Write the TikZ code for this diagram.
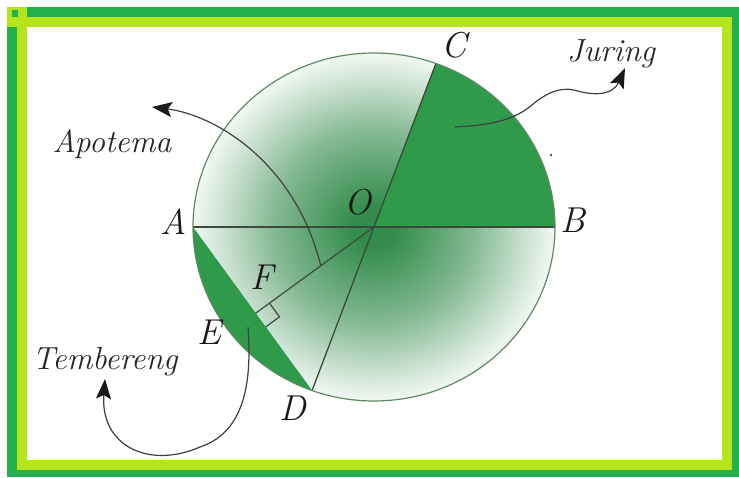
\documentclass[tikz,border=0pt]{standalone}
\usepackage{xcolor}
\usepackage{tikz}
\usetikzlibrary{arrows.meta,calc}
\definecolor{frameGreen}{HTML}{22B14C}
\definecolor{frameLime}{HTML}{B5E61D}
\definecolor{sectorGreen}{HTML}{2E9A4A}
\definecolor{shadeGreen}{HTML}{348C4C}
\definecolor{lineGray}{HTML}{3C4A3E}
\definecolor{rimGreen}{HTML}{5E8A64}
\pgfdeclareradialshading{discShade}{\pgfpoint{0bp}{0bp}}{color(0bp)=(shadeGreen); color(3bp)=(shadeGreen); color(14bp)=(shadeGreen!60); color(20bp)=(shadeGreen!30); color(25bp)=(shadeGreen!6); color(50bp)=(white)}

\begin{document}
\begin{tikzpicture}[x=1pt, y=1pt,
  lbl/.style={font=\fontsize{36}{40}\selectfont\itshape, text=black!90, inner sep=0pt},
  word/.style={font=\fontsize{32}{36}\selectfont\itshape, text=black!85, inner sep=0pt},
  pointer/.style={draw=black!75, line width=1.2pt, -{Stealth[length=20pt, width=15pt, inset=4pt, color=black!90]}}]
  \useasboundingbox (0,0) rectangle (739,477);

  % Frame
  \fill[frameGreen] (7,0) rectangle (739,470);
  \fill[frameLime] (17,7) rectangle (732,460);
  \fill[white] (27,17) rectangle (722,450);
  \fill[frameLime] (7,450) rectangle (27,470);
  \fill[frameGreen] (12,460) rectangle (18,467);

  % Points on the circle
  \coordinate (O) at (374,250);
  \path (O) ++(180:181pt and 174pt) coordinate (A);
  \path (O) ++(0:181pt and 174pt) coordinate (B);
  \path (O) ++(70:181pt and 174pt) coordinate (C);
  \path (O) ++(250:181pt and 174pt) coordinate (D);
  \coordinate (F) at ($(A)!(O)!(D)$);

  % Shaded disc
  \shade[shading=discShade] (O) ellipse [x radius=181pt, y radius=174pt];

  % Juring and tembereng
  \fill[sectorGreen] (O) -- (B) arc[start angle=0, end angle=70, x radius=181pt, y radius=174pt] -- cycle;
  \fill[sectorGreen] (A) -- (D) arc[start angle=250, end angle=180, x radius=181pt, y radius=174pt] -- cycle;

  % Diameters and apotema
  \draw[lineGray, line width=1.6pt] (A) -- (B);
  \draw[lineGray, line width=1.3pt] (C) -- (D);
  \draw[lineGray, line width=1.2pt] (O) -- (F);
  \coordinate (Fo) at ($(F)!17pt!(O)$);
  \coordinate (Fd) at ($(F)!17pt!(D)$);
  \draw[lineGray, line width=1.2pt] (Fo) -- ($(Fo)+(Fd)-(F)$) -- (Fd);
  \draw[rimGreen, line width=1.2pt] (O) ellipse [x radius=181pt, y radius=174pt];
  \fill[black!70] (551,322) circle (1.3pt);

  % Point labels
  \node[lbl, anchor=base] (labA) at (174,242) {A};
  \node[lbl, anchor=base] (labB) at (573,244) {B};
  \node[lbl, anchor=base] (labC) at (454,419) {C};
  \node[lbl, anchor=base] (labO) at (358,262) {O};
  \node[lbl, anchor=base] (labF) at (262,187) {F};
  \node[lbl, anchor=base] (labE) at (209,132) {E};
  \node[lbl, anchor=base] (labD) at (293,57) {D};

  % Names and pointers
  \node[word, anchor=base] (apoLbl) at (112,324) {Apotema};
  \node[word, anchor=base] (temLbl) at (105,107) {Tembereng};
  \node[word, anchor=base] (jurLbl) at (611,415) {Juring};
  \coordinate (apoS) at ($(O)!0.45!(F)$);
  \coordinate (apoT) at (152,370);
  \draw[pointer] (apoS) .. controls (295,315) and (215,362) .. (apoT);
  \coordinate (jurS) at (455,350);
  \coordinate (jurT) at (625,409);
  \draw[pointer] (jurS) .. controls (495,352) and (515,358) .. (532,372) .. controls (546,384) and (560,390) .. (574,387) .. controls (590,382) and (612,380) .. (jurT);
  \coordinate (temS) at (248,150);
  \coordinate (temT) at (105,98);
  \draw[pointer] (temS) .. controls (252,95) and (245,45) .. (200,30) .. controls (150,8) and (100,30) .. (temT);
\end{tikzpicture}
\end{document}
